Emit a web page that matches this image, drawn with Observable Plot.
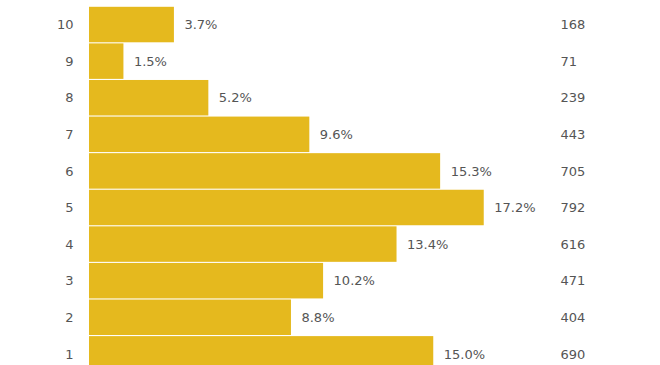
<!DOCTYPE html>
<html>
<head>
<meta charset="utf-8">
<script src="https://cdn.jsdelivr.net/npm/d3@7"></script>
<script src="https://cdn.jsdelivr.net/npm/@observablehq/plot@0.6"></script>
<style>
  html, body { margin: 0; padding: 0; background: #fff; }
  svg { display: block; }
</style>
</head>
<body>
<div id="chart"></div>
<script>
const scores = ["10", "9", "8", "7", "6", "5", "4", "3", "2", "1"];
const percents = [3.7, 1.5, 5.2, 9.6, 15.3, 17.2, 13.4, 10.2, 8.8, 15.0];
const counts = [168, 71, 239, 443, 705, 792, 616, 471, 404, 690];

const data = scores.map((s, i) => ({score: s, pct: percents[i], count: counts[i]}));

const chart = Plot.plot({
  width: 660,
  height: 365,
  marginLeft: 89,
  marginRight: 0,
  marginTop: 0,
  marginBottom: 0,
  style: {fontFamily: "'DejaVu Sans', Verdana, sans-serif", fontSize: "13px", color: "#555"},
  x: {domain: [0, 100], range: [89, 89 + 2295], axis: null},
  y: {domain: scores, range: [5.7, 372.7], padding: 0.03, round: false, label: null, tickSize: 0, tickPadding: 16},
  marks: [
    Plot.barX(data, {y: "score", x: "pct", fill: "#E5B91E"}),
    Plot.text(data, {y: "score", x: "pct", text: d => d.pct.toFixed(1) + "%", textAnchor: "start", dx: 10, fill: "#555", fontSize: 13}),
    Plot.text(data, {y: "score", text: d => String(d.count), frameAnchor: "right", textAnchor: "start", dx: -100, fill: "#555", fontSize: 13}),
    Plot.axisY({tickSize: 0, tickPadding: 16, fontSize: 13, fill: "#555", label: null})
  ]
});
document.getElementById("chart").appendChild(chart);
</script>
</body>
</html>
